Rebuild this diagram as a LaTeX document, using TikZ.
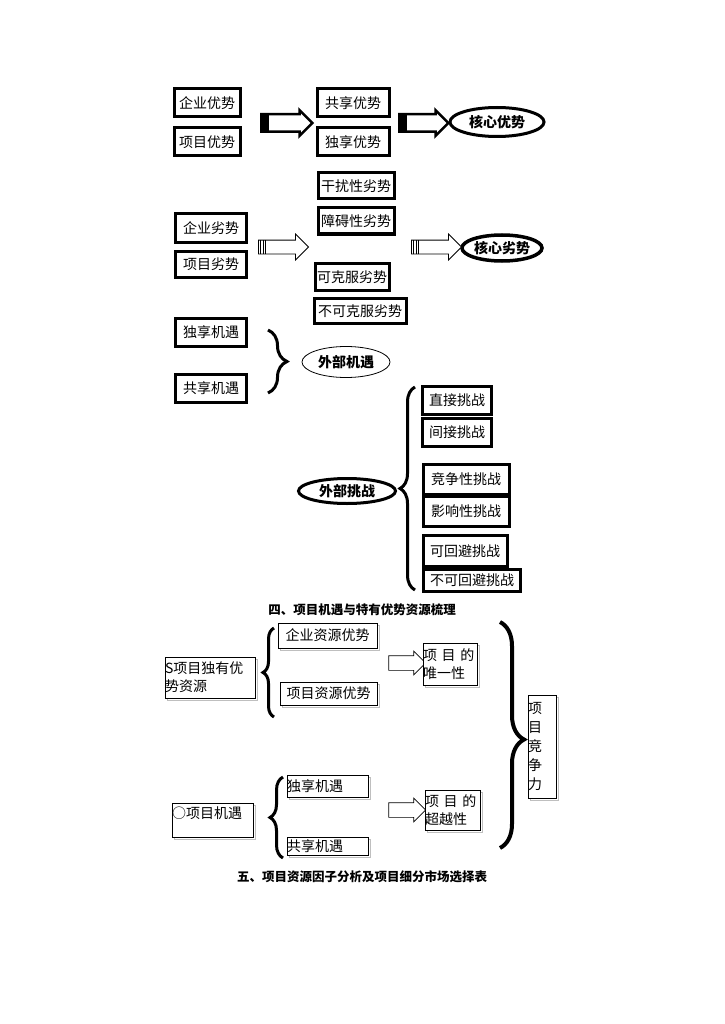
\documentclass[tikz,border=0pt]{standalone}
\usepackage{fontspec}
\setmainfont{Noto Sans CJK SC}
\usetikzlibrary{shapes.geometric,shapes.arrows,decorations.pathreplacing,shadows}

\begin{document}
\begin{tikzpicture}[x=1pt, y=-1pt,
      every node/.style = {inner sep=0pt, font=\fontsize{14}{16}\selectfont},
      thickbox/.style = {shape=rectangle, draw, line width=3pt, fill=white},
      thinbox/.style = {shape=rectangle, draw, line width=0.8pt, fill=white,
        general shadow={shadow xshift=2pt, shadow yshift=-2pt,
          draw=gray!50, line width=0.8pt, fill=none}},
      oval/.style = {shape=ellipse, draw, fill=white,
        font=\fontsize{14}{16}\selectfont\bfseries},
      blockarrow/.style = {shape=single arrow, draw, fill=white,
        inner xsep=0pt, inner ysep=7.5pt, single arrow head extend=4pt},
      curly/.style = {decorate, decoration={brace, amplitude=#1}, line width=3pt},
      caption/.style = {font=\fontsize{12.5}{14}\selectfont\bfseries}]
  \useasboundingbox (0,0) rectangle (724,1024);

  % advantages
  \node[thickbox, minimum width=66, minimum height=28] (qyys) at (207,103) {企业优势};
  \node[thickbox, minimum width=66, minimum height=28] (xmys) at (207,142) {项目优势};
  \node[thickbox, minimum width=72, minimum height=28] (gxys) at (353,103) {共享优势};
  \node[thickbox, minimum width=72, minimum height=28] (dxys) at (353,142) {独享优势};
  \node[oval, line width=3pt, minimum width=94, minimum height=29] (hxys) at (497,122) {核心优势};
  \node[blockarrow, line width=2.5pt, minimum height=51] (a1) at (282.5,123) {};
  \node[blockarrow, line width=2.5pt, minimum height=49] (a2) at (419.5,123) {};
  \foreach \a in {a1,a2}
    \fill (\a.before tail) rectangle ([xshift=9pt]\a.after tail);

  % disadvantages
  \node[thickbox, minimum width=76, minimum height=26] (grls) at (356,186) {干扰性劣势};
  \node[thickbox, minimum width=76, minimum height=26] (zals) at (356,221) {障碍性劣势};
  \node[thickbox, minimum width=71, minimum height=28] (qyls) at (211,228) {企业劣势};
  \node[thickbox, minimum width=71, minimum height=26] (xmls) at (211,264) {项目劣势};
  \node[thickbox, minimum width=74, minimum height=27] (kkls) at (352,277) {可克服劣势};
  \node[thickbox, minimum width=92, minimum height=25] (bkls) at (360,311) {不可克服劣势};
  \node[oval, line width=3.5pt, minimum width=80, minimum height=26] (hxls) at (502,248) {核心劣势};
  \node[blockarrow, line width=0.8pt, inner ysep=6.5pt, single arrow head extend=6pt,
    minimum height=50] (a3) at (280,247) {};
  \node[blockarrow, line width=0.8pt, inner ysep=6.5pt, single arrow head extend=6pt,
    minimum height=50] (a4) at (433,247) {};
  \foreach \a in {a3,a4}
    \foreach \dx in {2.5,5,7.5}
      \draw[line width=0.8pt] ([xshift=\dx pt]\a.before tail) -- ([xshift=\dx pt]\a.after tail);

  % opportunities
  \node[thickbox, minimum width=71, minimum height=28] (dxjy) at (211,332) {独享机遇};
  \node[thickbox, minimum width=71, minimum height=28] (gxjy) at (211,388) {共享机遇};
  \node[oval, line width=0.8pt, minimum width=88, minimum height=31] (wbjy) at (346,362) {外部机遇};
  \draw[curly=19] (268,330) -- (268,393);

  % challenges
  \node[oval, line width=3pt, minimum width=97, minimum height=25] (wbtz) at (347,491) {外部挑战};
  \draw[curly=15] (415,590) -- (415,387);
  \node[thickbox, minimum width=69, minimum height=28] (zjtz) at (457,400) {直接挑战};
  \node[thickbox, minimum width=69, minimum height=28] (jjtz) at (457,432) {间接挑战};
  \node[thickbox, minimum width=86, minimum height=30] (jztz) at (466,479) {竞争性挑战};
  \node[thickbox, minimum width=86, minimum height=30] (yxtz) at (466,511) {影响性挑战};
  \node[thickbox, minimum width=84, minimum height=31] (khtz) at (465,551) {可回避挑战};
  \node[thickbox, minimum width=97, minimum height=22] (bhtz) at (472,580) {不可回避挑战};

  \node[caption] (cap4) at (362,610) {四、项目机遇与特有优势资源梳理};

  % resources and opportunities of the project
  \node[thinbox, text width=90, minimum height=41, align=left,
    font=\fontsize{14}{18}\selectfont] (dyzy) at (210,677.5) {S项目独有优\\势资源};
  \draw[curly=11] (274,717) -- (274,628);
  \node[thinbox, minimum width=99, minimum height=25] (qyzy) at (327.5,635.5) {企业资源优势};
  \node[thinbox, minimum width=97, minimum height=23] (xmzy) at (328.5,693.5) {项目资源优势};
  \node[blockarrow, line width=0.7pt, inner ysep=7pt, single arrow head extend=4.5pt,
    minimum height=37] (a5) at (403.5,663) {};
  \node[thinbox, text width=54, minimum height=42, align=left,
    font=\fontsize{14}{18}\selectfont] (wyx) at (450,664) {项 目 的\\唯一性};

  \node[thinbox, text width=81, align=left, text height=15pt, text depth=19pt]
    (xmjy) at (212.5,820) {○项目机遇};
  \draw[curly=13] (283,858) -- (283,777);
  \node[thinbox, text width=81, minimum height=22, align=left] (dxjy2) at (327.5,786) {独享机遇};
  \node[thinbox, text width=81, minimum height=18, align=left] (gxjy2) at (327.5,846) {共享机遇};
  \node[blockarrow, line width=0.7pt, inner ysep=7pt, single arrow head extend=4.5pt,
    minimum height=37] (a6) at (403.5,810) {};
  \node[thinbox, text width=55, minimum height=40, align=left,
    font=\fontsize{14}{18}\selectfont] (cyx) at (452.5,810) {项 目 的\\超越性};

  \draw[curly=24, line width=4pt, decoration={aspect=0.52}] (500,622) -- (500,848);
  \node[thinbox, text width=28, minimum height=103, align=left,
    font=\fontsize{14}{19}\selectfont] (jzl) at (542,746.5) {项\\目\\竞\\争\\力};

  \node[caption] (cap5) at (362,877) {五、项目资源因子分析及项目细分市场选择表};
\end{tikzpicture}
\end{document}
